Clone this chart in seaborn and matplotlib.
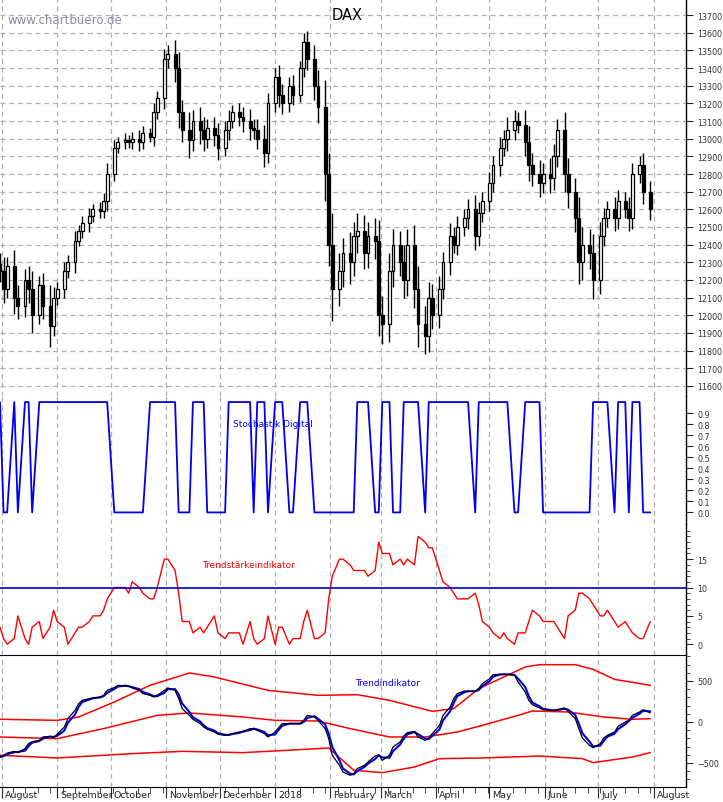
import matplotlib
matplotlib.use('Agg')
import matplotlib.pyplot as plt
import numpy as np
import pandas as pd
import seaborn as sns

# closes, one value per two trading days (Aug 2017 .. Aug 2018)
closes = [12250, 12150, 12280, 12100, 12050, 12200, 12150, 12000, 12170, 12050, 11940, 12100,
          12150, 12250, 12300, 12420, 12480, 12520, 12560, 12600, 12590, 12650, 12800,
          12950, 12980, 12990, 12980, 13000, 12980, 13030, 13010, 13150, 13230,
          13450, 13480, 13400, 13150, 13050, 12990, 13100, 13050, 13000, 13060, 13020,
          12950, 13050, 13100, 13150, 13120, 13100, 13060, 13050, 13000, 12920,
          13200, 13350, 13250, 13200, 13300, 13250, 13400, 13550, 13450, 13300, 13180,
          12800, 12400, 12150, 12250, 12350, 12300, 12450, 12480, 12350, 12450, 12420,
          12000, 11950, 12250, 12400, 12300, 12200, 12400, 12150, 11950, 11880, 12100,
          12000, 12150, 12300, 12450, 12400, 12500, 12550, 12600, 12450, 12580,
          12650, 12750, 12850, 12950, 13000, 13050, 13100, 13080, 12980, 12850, 12800,
          12750, 12800, 12780, 12900, 13050, 12800, 12700, 12550, 12300, 12400,
          12350, 12200, 12450, 12550, 12600, 12550, 12650, 12600, 12550, 12800, 12850, 12700,
          12600]
wicks = [60, 80, 50, 90, 70, 60, 80, 100, 50, 70, 120, 60,
         40, 50, 40, 60, 30, 40, 50, 30, 40, 40, 60,
         40, 30, 40, 30, 40, 50, 40, 30, 50, 40,
         60, 50, 80, 90, 70, 100, 60, 80, 70, 50, 60,
         70, 50, 60, 40, 50, 60, 70, 50, 60, 80,
         60, 50, 70, 60, 50, 60, 40, 50, 60, 80, 90,
         150, 120, 180, 100, 90, 120, 80, 100, 90, 80, 100,
         120, 110, 100, 90, 80, 100, 90, 110, 130, 100, 90,
         80, 70, 60, 70, 50, 60, 50, 60, 80, 60,
         50, 60, 50, 60, 50, 70, 60, 50, 80, 90, 70,
         80, 60, 90, 70, 60, 100, 90, 80, 120, 100,
         90, 110, 80, 60, 50, 70, 60, 50, 70, 60, 50, 70,
         60]

# stochastik digital: ranges of bins where the signal is high
stoch_high = [(0, 0), (3, 3), (5, 6), (8, 22), (30, 35), (39, 41), (46, 50), (52, 53),
              (55, 57), (60, 62), (72, 74), (77, 78), (81, 84), (86, 94), (96, 102),
              (105, 108), (119, 122), (124, 125), (127, 128)]
strength = [3, 1, 0, 1, 5, 1, 0, 3, 4, 1, 3, 6, 4, 3, 0, 2, 3, 3, 4, 5, 5, 6, 8, 10, 10, 10,
            9, 11, 10, 9, 8, 8, 10, 15, 15, 13, 9, 4, 4, 2, 3, 2, 3, 5, 2, 1, 2, 2, 2, 0, 4,
            1, 0, 1, 5, 0, 3, 3, 0, 1, 1, 4, 6, 1, 1, 2, 8, 12, 15, 15, 14, 13, 13, 13, 12, 13,
            18, 16, 16, 14, 15, 14, 15, 14, 19, 18, 17, 17, 13, 11, 10, 9, 8, 8, 8, 9, 7, 4, 3,
            2, 1, 2, 1, 0, 2, 2, 4, 6, 5, 4, 4, 4, 3, 1, 5, 6, 9, 9, 8, 7, 5, 5, 6, 4, 3, 4, 3,
            2, 1, 1, 4]
trend = [-427, -406, -380, -358, -374, -325, -264, -240, -224, -183, -175, -190, -150, -61,
         41, 142, 224, 264, 285, 293, 305, 325, 386, 419, 447, 439, 435, 415, 386, 346, 325,
         305, 325, 386, 415, 386, 285, 163, 81, 33, -20, -61, -89, -122, -150, -163, -154,
         -142, -122, -114, -81, -81, -102, -142, -183, -122, -69, -20, -20, -20, -20, 20, 81,
         61, 20, -81, -203, -406, -528, -610, -650, -630, -569, -528, -488, -415, -398, -467,
         -406, -305, -244, -171, -130, -114, -183, -224, -195, -142, -41, 81, 183, 285, 346,
         378, 374, 374, 407, 467, 528, 577, 581, 581, 581, 569, 488, 366, 264, 211, 171, 150,
         142, 142, 150, 171, 130, 41, -81, -195, -285, -313, -264, -195, -163, -122, -53, 0,
         20, 81, 122, 150, 110]

upper_idx = [0, 12, 16, 23, 30, 38, 43, 54, 64, 72, 78, 87, 91, 96, 105, 108, 115, 119, 123, 130]
upper_val = [33, 20, 61, 244, 447, 598, 549, 386, 325, 333, 264, 130, 163, 407, 671, 699, 699, 642, 520, 447]
middle_idx = [0, 12, 21, 32, 38, 49, 55, 64, 70, 78, 85, 92, 97, 104, 107, 114, 121, 127, 130]
middle_val = [-183, -203, -81, 81, 110, 61, 20, 12, -81, -183, -183, -122, -41, 81, 134, 122, 61, 33, 41]
lower_idx = [0, 12, 27, 37, 49, 64, 66, 71, 77, 83, 88, 97, 108, 117, 119, 127, 130]
lower_val = [-406, -439, -386, -358, -374, -325, -317, -589, -618, -549, -447, -439, -415, -447, -496, -427, -374]

month_names = ['August', 'September', 'October', 'November', 'December', '2018', 'February',
               'March', 'April', 'May', 'June', 'July', 'August']

dates = pd.bdate_range('2017-07-31', periods=2 * len(closes))[::2]
closes = np.array(closes, float)
opens = np.r_[closes[0] + 40, closes[:-1]]
highs = np.maximum(opens, closes) + np.array(wicks)
lows = np.minimum(opens, closes) - np.array(wicks)
stoch = np.zeros(len(closes))
for a, b in stoch_high:
    stoch[a:b + 1] = 1

sns.set_style('white')
plt.rcParams['font.family'] = ['DejaVu Sans']

W, H = 723, 803
fig = plt.figure(figsize=(W / 100, H / 100), dpi=100)
R = 686


def make_ax(top, bottom):
    return fig.add_axes([0, 1 - bottom / H, R / W, (bottom - top) / H])


ax1 = make_ax(0, 397)
ax2 = make_ax(397, 525)
ax3 = make_ax(525, 656)
ax4 = make_ax(656, 788)
xlim = (pd.Timestamp('2017-07-31'), pd.Timestamp('2018-08-19'))
month_starts = pd.date_range('2017-08-01', '2018-08-01', freq='MS')
grid_kw = dict(color='#b0b0b0', ls=(0, (4, 3)), lw=0.9, zorder=0)

for ax in (ax1, ax2, ax3, ax4):
    ax.set_xlim(*xlim)
    for s in ('left', 'top', 'bottom'):
        ax.spines[s].set_visible(False)
    ax.spines['right'].set_color('black')
    ax.spines['right'].set_linewidth(1)
    for m in month_starts:
        ax.axvline(m, **grid_kw)
    ax.yaxis.tick_right()
    ax.tick_params(axis='y', which='both', direction='out', right=True, left=False,
                   labelsize=5.8, labelcolor='#333333', pad=3)
    ax.tick_params(axis='y', which='major', length=5)
    ax.tick_params(axis='y', which='minor', length=3)
    ax.set_xticks([])
    ax.set_facecolor('none')

# price panel
ax1.set_ylim(11543, 13791)
ax1.set_yticks(np.arange(11600, 13701, 100))
for v in np.arange(11600, 13801, 100):
    ax1.axhline(v, **grid_kw)
up = closes >= opens
ax1.vlines(dates, lows, highs, color='black', lw=1, zorder=2)
ax1.bar(dates[up], closes[up] - opens[up], bottom=opens[up], width=1.6,
        color='white', edgecolor='black', lw=0.9, zorder=3)
ax1.bar(dates[~up], opens[~up] - closes[~up], bottom=closes[~up], width=1.6,
        color='black', edgecolor='black', lw=0.9, zorder=3)
ax1.text(8 / R, 1 - 20 / 397, 'www.chartbuero.de', transform=ax1.transAxes,
         fontsize=8.5, color='#8a8a9a', va='center')
ax1.text(347 / R, 1 - 15 / 397, 'DAX', transform=ax1.transAxes,
         fontsize=10.5, color='black', va='center', ha='center')

# stochastik digital
stoch_df = pd.DataFrame({'date': dates, 'v': stoch})
sns.lineplot(data=stoch_df, x='date', y='v', ax=ax2, color='#0000ee', lw=1.3)
ax2.set_ylim(-0.105, 1.055)
ax2.set_yticks(np.arange(0, 0.91, 0.1))
ax2.set_yticklabels([f'{v:.1f}' for v in np.arange(0, 0.91, 0.1)])
ax2.text(273 / R, 1 - 28 / 128, 'Stochastik Digital', transform=ax2.transAxes,
         fontsize=6.5, color='#0000ee', ha='center', va='center')

# trendstaerke
st_df = pd.DataFrame({'date': dates, 'v': strength})
sns.lineplot(data=st_df, x='date', y='v', ax=ax3, color='red', lw=1)
ax3.axhline(10, color='#0000cc', lw=1.2)
ax3.set_ylim(-1.9, 21.2)
ax3.set_yticks([0, 5, 10, 15])
ax3.set_yticks(np.arange(0, 21, 1), minor=True)
ax3.text(249 / R, 1 - 40 / 131, 'Trendstärkeindikator', transform=ax3.transAxes,
         fontsize=6.5, color='red', ha='center', va='center')

# trendindikator
tr_df = pd.DataFrame({'date': dates, 'v': trend})
tr_df['blue'] = tr_df['v'].rolling(2, min_periods=1).mean()
for idx, val in ((upper_idx, upper_val), (middle_idx, middle_val), (lower_idx, lower_val)):
    sns.lineplot(x=dates[idx], y=val, ax=ax4, color='red', lw=1.1)
sns.lineplot(data=tr_df, x='date', y='blue', ax=ax4, color='#0000ee', lw=1.5)
sns.lineplot(data=tr_df, x='date', y='v', ax=ax4, color='black', lw=0.9)
ax4.set_ylim(-793, 817)
ax4.set_yticks([-500, 0, 500])
ax4.set_yticks(np.arange(-700, 801, 100), minor=True)
ax4.spines['top'].set_visible(True)
ax4.spines['top'].set_color('black')
ax4.spines['bottom'].set_visible(True)
ax4.spines['bottom'].set_color('black')
ax4.text(388 / R, 1 - 27 / 132, 'Trendindikator', transform=ax4.transAxes,
         fontsize=6.5, color='#0000ee', ha='center', va='center')

for ax in (ax1, ax2, ax3, ax4):
    ax.set_xlabel('')
    ax.set_ylabel('')
    ax.set_xlim(*xlim)

# month labels under the bottom panel
ax4.set_xticks(month_starts)
ax4.set_xticks(pd.date_range('2017-08-01', '2018-08-19', freq='W-MON'), minor=True)
ax4.set_xticklabels([])
ax4.tick_params(axis='x', which='major', direction='out', length=8, bottom=True)
ax4.tick_params(axis='x', which='minor', direction='out', length=4, bottom=True)
for m, name in zip(month_starts, month_names):
    ax4.annotate(name, xy=(m, 0), xycoords=('data', 'axes fraction'), xytext=(2, -2),
                 textcoords='offset points', fontsize=6.8, ha='left', va='top', color='#222222')

fig.savefig('out.png', dpi=100)
